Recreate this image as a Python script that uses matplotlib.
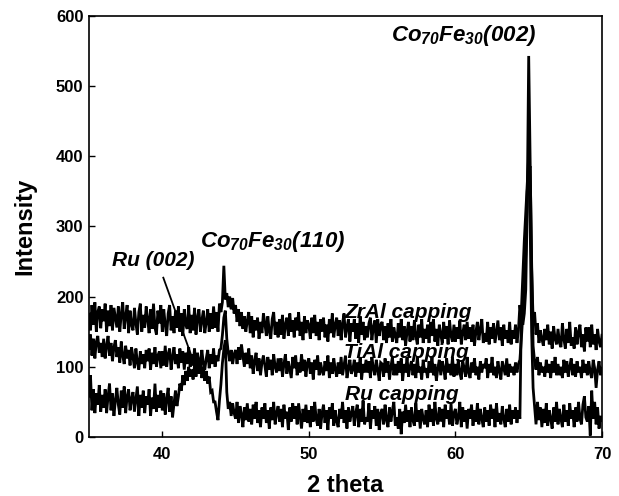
import numpy as np
import matplotlib
matplotlib.use("Agg")
import matplotlib.pyplot as plt

plt.rcParams['font.family'] = ['Liberation Sans', 'DejaVu Sans']
plt.rcParams['font.weight'] = 'bold'

# 2theta grid: 35.0 .. 70.0 in 0.1 steps (one row = one degree)
two_theta_start = 35.0
two_theta_end = 70.0

zral = [
    175,152,188,160,192,150,178,186,155,182,
    165,190,150,180,158,188,152,184,170,156,
    186,150,176,192,154,172,188,148,180,160,
    152,184,162,146,178,190,150,174,156,186,
    168,148,182,154,190,156,146,180,162,188,
    150,182,160,144,176,188,152,172,148,180,
    156,186,150,176,144,182,160,154,188,148,
    174,152,184,146,170,182,150,166,180,148,
    164,182,150,176,154,186,156,178,150,190,
    178,192,244,196,205,185,200,182,198,176,
    188,164,182,158,178,154,172,150,166,178,
    148,172,142,166,152,170,140,164,148,176,
    162,144,172,150,140,168,178,146,164,142,
    168,146,174,140,160,170,144,176,150,166,
    142,170,152,178,144,164,138,172,148,166,
    160,140,170,148,174,144,164,138,168,150,
    170,142,160,136,168,148,176,142,160,170,
    144,166,138,162,176,142,156,168,136,162,
    150,168,140,162,134,172,146,164,138,158,
    142,162,170,138,156,166,134,168,144,160,
    164,138,158,134,162,142,168,136,156,144,
    134,162,142,168,138,158,130,150,164,136,
    158,138,166,144,132,160,142,168,134,154,
    140,160,134,164,144,168,136,154,130,160,
    146,134,164,140,158,132,166,144,136,160,
    136,156,140,166,132,148,160,138,164,140,
    156,136,160,130,150,164,138,154,168,134,
    148,136,164,132,156,140,162,134,150,166,
    138,156,130,160,140,152,134,164,132,152,
    140,160,134,152,188,168,160,176,210,330,
    543,386,240,168,178,146,162,134,152,140,
    130,154,138,160,132,150,126,158,140,132,
    154,134,128,162,140,126,154,134,164,130,
    142,126,156,132,150,160,128,146,122,156,
    136,156,128,160,132,146,124,154,136,128,
    145,
]

tial = [
    126,146,116,140,112,136,144,120,134,114,
    140,112,130,144,116,134,108,128,138,114,
    128,106,136,116,104,130,112,124,102,128,
    114,98,126,106,96,122,104,118,98,124,
    108,126,96,120,104,128,100,116,122,98,
    122,102,130,100,118,126,96,114,128,104,
    118,98,126,106,122,96,120,104,128,100,
    118,102,126,96,120,108,100,124,104,96,
    112,124,98,118,104,126,100,116,108,124,
    126,145,170,180,140,120,108,124,104,118,
    124,104,128,110,132,116,100,120,104,126,
    98,116,90,108,120,94,112,88,106,116,
    102,86,114,96,110,88,118,100,92,112,
    94,112,86,104,118,90,108,96,84,114,
    98,116,88,106,92,118,94,110,86,106,
    112,90,106,82,110,96,116,88,106,94,
    88,108,94,116,84,106,90,112,96,86,
    106,90,114,88,102,116,84,98,110,90,
    96,110,86,106,92,114,82,104,92,110,
    92,108,84,114,98,88,110,96,80,106,
    104,86,112,92,108,82,100,114,88,104,
    88,108,92,112,80,104,92,114,86,100,
    108,88,104,84,114,92,100,82,110,92,
    98,84,108,92,114,88,104,80,98,110,
    88,108,98,82,112,92,104,88,114,86,
    104,88,110,92,82,108,98,86,114,92,
    84,106,92,112,88,100,82,108,92,104,
    98,112,84,104,92,114,88,100,84,108,
    94,82,108,98,88,112,86,104,92,100,
    88,106,92,104,110,140,175,210,260,350,
    380,386,250,130,108,96,114,88,106,92,
    100,86,110,92,104,84,108,92,114,88,
    104,88,100,84,110,92,108,86,100,112,
    88,104,86,108,92,100,84,110,92,104,
    88,108,92,84,110,98,70,96,108,88,
    98,
]

ru = [
    58,88,38,68,34,62,46,74,36,60,
    42,68,34,58,76,38,62,30,52,70,
    46,32,66,42,72,34,58,68,38,54,
    64,36,54,72,30,60,42,66,34,58,
    46,68,30,56,40,76,36,60,42,66,
    38,62,32,54,70,36,58,28,48,66,
    44,58,76,66,88,74,94,80,100,86,
    96,82,102,86,106,90,108,84,100,80,
    94,76,86,64,66,50,50,36,24,52,
    75,105,125,138,64,40,50,30,48,34,
    26,50,20,44,32,14,42,24,48,22,
    40,18,46,26,50,20,38,14,42,26,
    48,20,38,12,42,24,50,18,34,44,
    22,40,14,46,26,36,10,42,22,48,
    26,44,18,48,30,12,40,22,46,20,
    38,14,44,22,50,26,16,40,12,34,
    46,20,38,10,42,26,48,16,38,22,
    14,40,26,50,20,38,12,42,22,34,
    44,16,34,46,14,40,22,52,18,28,
    22,48,12,38,26,44,16,40,10,34,
    40,18,46,24,14,42,22,38,50,16,
    28,12,40,4,36,20,46,22,38,14,
    42,24,16,48,22,38,12,40,26,18,
    38,14,46,22,40,16,50,26,18,42,
    22,40,14,46,26,38,18,48,16,34,
    40,18,28,50,14,42,22,38,12,40,
    26,46,16,38,22,48,18,40,26,14,
    42,22,38,16,46,26,40,14,48,22,
    34,18,44,26,14,40,22,46,18,38,
    26,42,20,38,26,180,230,280,320,360,
    400,300,150,70,44,18,50,24,42,14,
    40,20,48,16,38,26,12,42,22,50,
    18,40,26,14,46,22,38,16,48,26,
    38,14,42,22,50,26,18,46,58,28,
    22,44,2,66,26,50,18,42,12,30,
    24,
]

series = [("ZrAl", zral), ("TiAl", tial), ("Ru", ru)]

fig = plt.figure(figsize=(6.19, 4.96), dpi=100)
ax = fig.add_axes([0.1438, 0.119, 0.8287, 0.8488])

for name, vals in series:
    x = np.linspace(two_theta_start, two_theta_end, len(vals))
    ax.plot(x, vals, color='black', lw=2.0, solid_joinstyle='miter')

ax.set_xlim(35, 70)
ax.set_ylim(0, 600)
ax.set_xticks([40, 50, 60, 70])
ax.set_yticks([0, 100, 200, 300, 400, 500, 600])
ax.tick_params(direction='in', length=4, width=1, top=False, right=False,
               labelsize=12)
ax.tick_params(axis='x', pad=7)
ax.tick_params(axis='y', pad=4)
for lab in ax.get_xticklabels() + ax.get_yticklabels():
    lab.set_fontweight('bold')
for sp in ax.spines.values():
    sp.set_linewidth(1.2)

ax.set_xlabel('2 theta', fontsize=17, fontweight='bold', labelpad=9)
ax.set_ylabel('Intensity', fontsize=17, fontweight='bold', labelpad=14)

tkw = dict(ha='left', va='baseline', color='black',
           fontstyle='italic', fontweight='bold')
ax.text(55.6, 564, r'$\mathregular{Co_{70}Fe_{30}(002)}$', fontsize=16, **tkw)
ax.text(42.6, 271, r'$\mathregular{Co_{70}Fe_{30}(110)}$', fontsize=16, **tkw)
ax.text(36.57, 243, 'Ru (002)', fontsize=15, **tkw)
ax.text(52.45, 170, 'ZrAl capping', fontsize=15, **tkw)
ax.text(52.4, 113, 'TiAl capping', fontsize=15, **tkw)
ax.text(52.5, 53, 'Ru capping', fontsize=15, **tkw)
ax.plot([40.07, 42.0], [227, 115], color='black', lw=1.3)

fig.savefig('out.png', dpi=100)
